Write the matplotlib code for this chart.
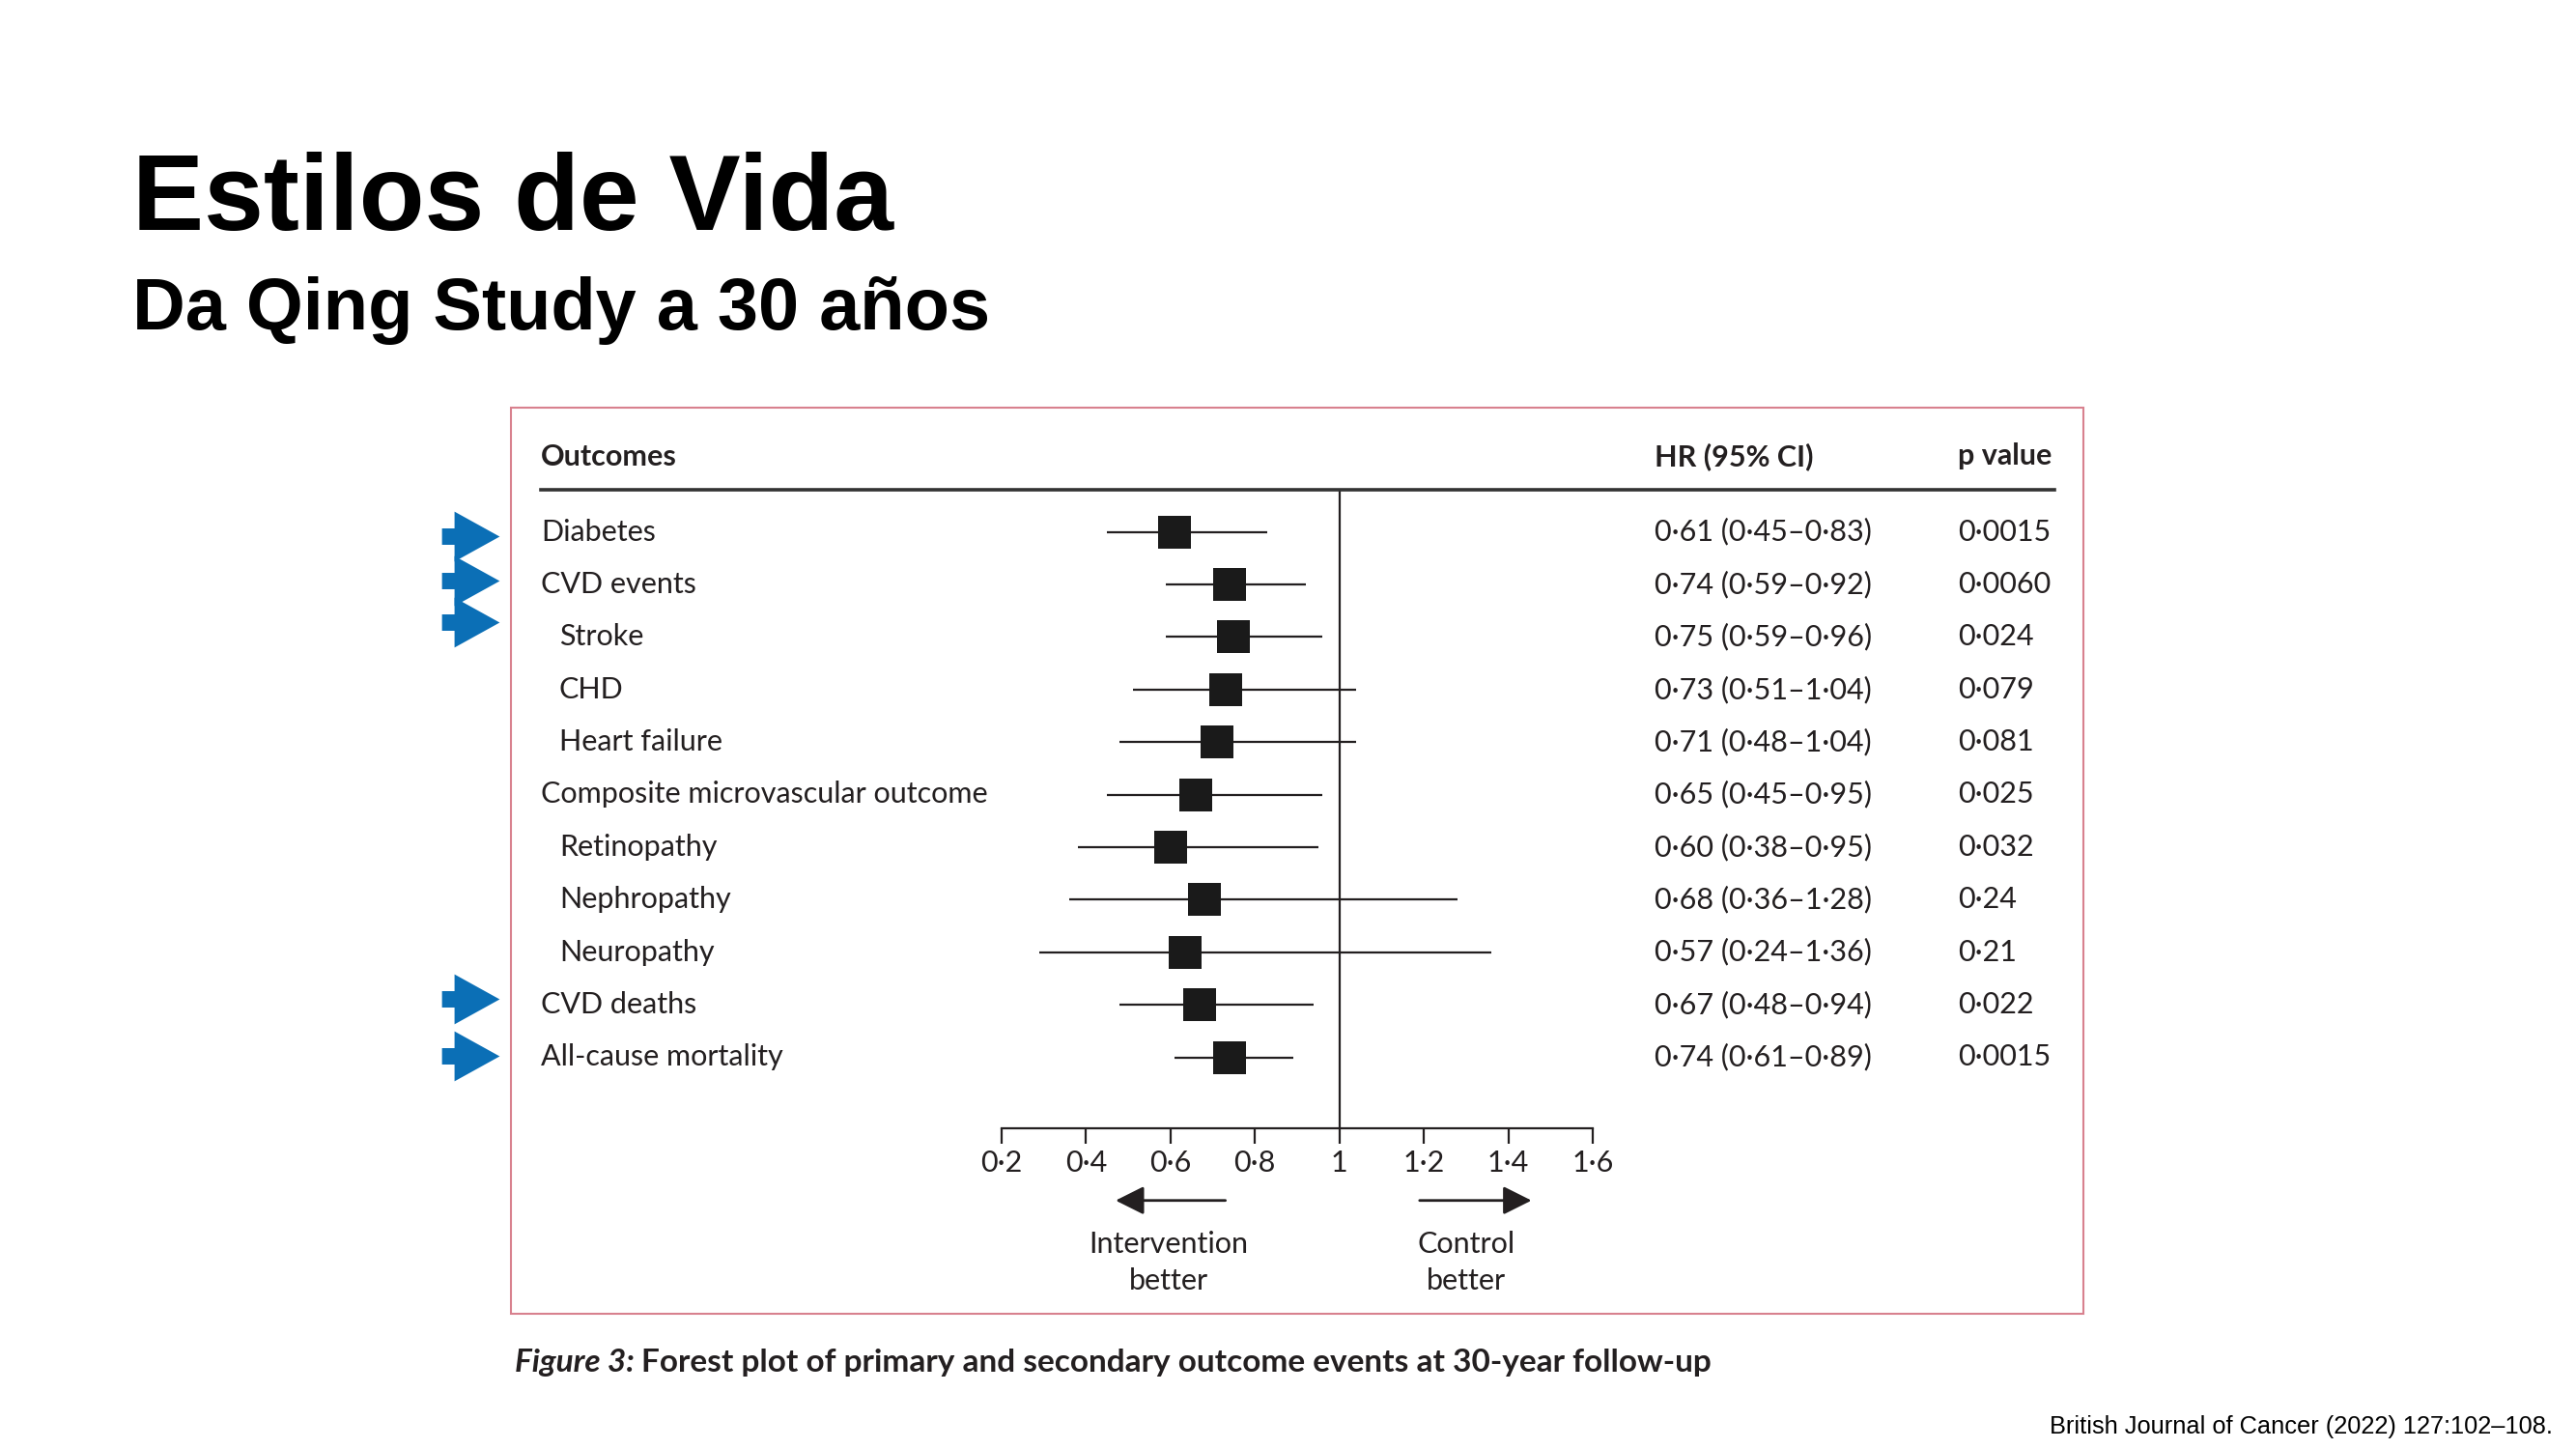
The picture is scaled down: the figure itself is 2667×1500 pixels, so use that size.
import matplotlib
matplotlib.use('Agg')
import matplotlib.pyplot as plt
from matplotlib import font_manager, transforms
from matplotlib.path import Path
from matplotlib.patches import Rectangle

W, H = 2667, 1500


def has_font(name):
    try:
        font_manager.findfont(name, fallback_to_default=False)
        return True
    except ValueError:
        return False


narrow = 'Liberation Sans Narrow' if has_font('Liberation Sans Narrow') else 'Lato'
fs = 26 if narrow == 'Liberation Sans Narrow' else 22
ink = '#231f20'

# data
outcomes = ['Diabetes', 'CVD events', 'Stroke', 'CHD', 'Heart failure',
            'Composite microvascular outcome', 'Retinopathy', 'Nephropathy',
            'Neuropathy', 'CVD deaths', 'All-cause mortality']
indented = [0, 0, 1, 1, 1, 0, 1, 1, 1, 0, 0]
hr_mark = [0.61, 0.74, 0.75, 0.73, 0.71, 0.66, 0.60, 0.68, 0.635, 0.67, 0.74]
lo_mark = [0.45, 0.59, 0.59, 0.51, 0.48, 0.45, 0.38, 0.36, 0.29, 0.48, 0.61]
hi_mark = [0.83, 0.92, 0.96, 1.04, 1.04, 0.96, 0.95, 1.28, 1.36, 0.94, 0.89]
hr_text = ['0·61 (0·45–0·83)', '0·74 (0·59–0·92)', '0·75 (0·59–0·96)',
           '0·73 (0·51–1·04)', '0·71 (0·48–1·04)', '0·65 (0·45–0·95)',
           '0·60 (0·38–0·95)', '0·68 (0·36–1·28)', '0·57 (0·24–1·36)',
           '0·67 (0·48–0·94)', '0·74 (0·61–0·89)']
p_text = ['0·0015', '0·0060', '0·024', '0·079', '0·081', '0·025',
          '0·032', '0·24', '0·21', '0·022', '0·0015']
ticks = [0.2, 0.4, 0.6, 0.8, 1.0, 1.2, 1.4, 1.6]
tick_labels = ['0·2', '0·4', '0·6', '0·8', '1', '1·2', '1·4', '1·6']
flagged = [0, 1, 2, 9, 10]
flag_nudge = [0.08, -0.07, -0.29, -0.11, -0.03]

fig = plt.figure(figsize=(W / 100, H / 100), dpi=100)
fig.patch.set_facecolor('white')

# title block
fig.text(137 / W, 1 - 238 / H, 'Estilos de Vida', fontsize=80, weight='bold',
         family='Liberation Sans', va='baseline', color='black')
fig.text(137 / W, 1 - 341 / H, 'Da Qing Study a 30 años', fontsize=54.5,
         weight='bold', family='Liberation Sans', va='baseline', color='black')

# panel frame
fig.add_artist(Rectangle((529 / W, 1 - 1360 / H), (2157 - 529) / W, (1360 - 422) / H,
                         transform=fig.transFigure, fill=False, ec='#d8818e', lw=1.5))

# forest axes
ax = fig.add_axes([1037 / W, 1 - 1168 / H, (1649 - 1037) / W, (1168 - 507) / H])
ax.set_facecolor('none')
ax.set_xlim(0.2, 1.6)
ax.set_ylim(11.35, -0.804)
for s in ['top', 'left', 'right']:
    ax.spines[s].set_visible(False)
ax.spines['bottom'].set_linewidth(1.6)
ax.spines['bottom'].set_color(ink)
ax.set_yticks([])
ax.set_xticks(ticks)
ax.set_xticklabels(tick_labels, family=narrow, fontsize=fs, color=ink)
ax.tick_params(axis='x', direction='out', length=11.5, width=1.6, color=ink, pad=4)

rows = list(range(len(outcomes)))
ax.axvline(1.0, color=ink, lw=1.6)
ax.hlines(rows, lo_mark, hi_mark, color=ink, lw=1.6)
ax.plot(hr_mark, rows, ls='none', marker='s', ms=24, mew=0, color='#1a1a1a')

ax_fig = transforms.blended_transform_factory(fig.transFigure, ax.transData)
ax_top = transforms.blended_transform_factory(fig.transFigure, ax.transAxes)

# header
for x, t in [(560, 'Outcomes'), (1713, 'HR (95% CI)'), (2027, 'p value')]:
    fig.text(x / W, 1 - 470 / H, t, family=narrow, weight='bold', fontsize=fs,
             color=ink, va='center_baseline')
ax.plot([560 / W, 2127 / W], [1, 1], transform=ax_top, clip_on=False, color='#333333', lw=2.6)

# table text
for i, name in enumerate(outcomes):
    x = 579 if indented[i] else 560
    y = i - 0.05
    ax.text(x / W, y, name, transform=ax_fig, family=narrow, fontsize=fs,
            color=ink, va='center_baseline')
    ax.text(1713 / W, y, hr_text[i], transform=ax_fig, family=narrow, fontsize=fs,
            color=ink, va='center_baseline')
    ax.text(2027 / W, y, p_text[i], transform=ax_fig, family=narrow, fontsize=fs,
            color=ink, va='center_baseline')

# direction arrows under the axis
px_row = 661 / (11.35 + 0.804)
y_arr = (1243 - 551) / px_row
y_lab = (1307 - 551) / px_row
astyle = dict(arrowstyle='-|>,head_length=0.9,head_width=0.45', mutation_scale=20,
              lw=2, color=ink, shrinkA=0, shrinkB=0)
ax.annotate('', xy=(0.47, y_arr), xytext=(0.73, y_arr), arrowprops=astyle,
            annotation_clip=False)
ax.annotate('', xy=(1.455, y_arr), xytext=(1.19, y_arr), arrowprops=astyle,
            annotation_clip=False)
ax.text(0.595, y_lab, 'Intervention\nbetter', ha='center', va='center', family=narrow,
        fontsize=fs, color=ink, linespacing=1.45)
ax.text(1.30, y_lab, 'Control\nbetter', ha='center', va='center', family=narrow,
        fontsize=fs, color=ink, linespacing=1.45)

# blue highlight arrows
arrow_shape = Path([(-0.5, -0.142), (-0.283, -0.142), (-0.283, -0.433), (0.5, 0.0),
                    (-0.283, 0.433), (-0.283, 0.142), (-0.5, 0.142), (-0.5, -0.142)],
                   closed=True)
for r, d in zip(flagged, flag_nudge):
    ax.plot([487 / W], [r + d], transform=ax_fig, clip_on=False, ls='none',
            marker=arrow_shape, ms=43, mew=0, color='#0b6fb6')

# caption under the panel
renderer = fig.canvas.get_renderer()
cap1 = fig.text(533 / W, 1 - 1408 / H, 'Figure 3:', family=narrow, weight='bold',
                style='italic', fontsize=24, color=ink, va='center_baseline')
bb = cap1.get_window_extent(renderer)
fig.text(bb.x1 / W + 7 / W, 1 - 1408 / H,
         'Forest plot of primary and secondary outcome events at 30-year follow-up',
         family=narrow, weight='bold', fontsize=24, color=ink, va='center_baseline')

fig.text(2643 / W, 1 - 1477 / H, 'British Journal of Cancer (2022) 127:102–108.',
         family='Liberation Sans', fontsize=18.3, ha='right', va='center', color='black')

fig.savefig('out.png', dpi=100, facecolor='white')
